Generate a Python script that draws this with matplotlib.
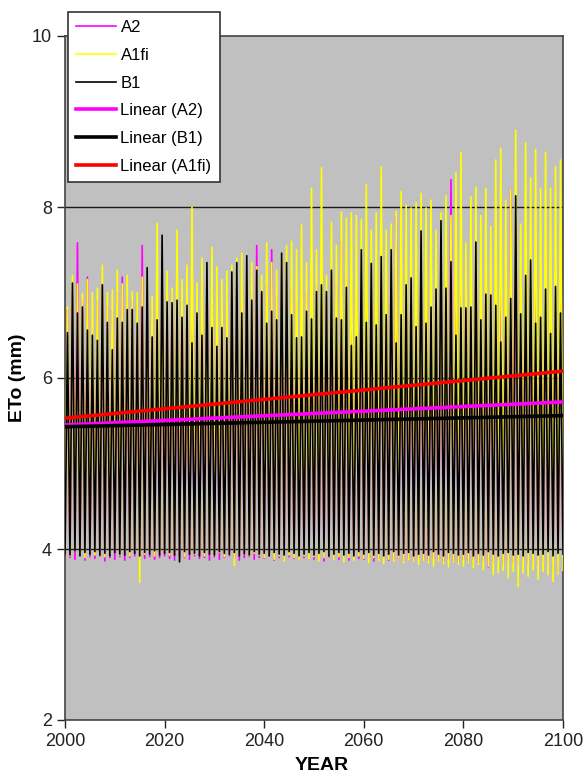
import matplotlib
matplotlib.use("Agg")
import matplotlib.pyplot as plt
import numpy as np

plt.rcParams['font.family'] = ['Liberation Sans', 'DejaVu Sans']

# ---- data (annual seasonal peaks / troughs) ----
years = list(range(2000, 2101))

B1_peak = [6.53, 7.11, 6.76, 6.83, 6.56, 6.50, 6.44, 7.09, 6.65, 6.33,
           6.70, 6.65, 6.80, 6.80, 6.64, 6.83, 7.29, 6.48, 6.68, 7.67,
           6.89, 6.88, 6.91, 6.71, 6.85, 6.41, 6.76, 6.50, 7.35, 6.59,
           6.37, 6.59, 6.47, 7.24, 7.35, 6.76, 7.43, 6.91, 7.26, 7.01,
           6.64, 6.78, 6.68, 7.46, 7.35, 6.74, 6.47, 6.48, 6.78, 6.69,
           7.01, 7.09, 7.01, 7.26, 6.70, 6.68, 7.06, 6.38, 6.48, 7.50,
           6.65, 7.34, 6.62, 7.42, 6.74, 7.50, 6.41, 6.74, 7.09, 7.17,
           6.60, 7.72, 6.64, 6.83, 7.04, 7.84, 7.05, 7.36, 6.50, 6.82,
           6.82, 6.83, 7.59, 6.68, 6.98, 6.97, 6.85, 6.42, 6.71, 6.93,
           8.13, 6.75, 7.20, 7.38, 6.64, 6.71, 7.04, 6.52, 7.07, 6.76]

B1_trough = [3.95, 3.93, 3.98, 3.92, 3.96, 3.94, 3.97, 3.93, 3.95, 3.92,
             3.96, 3.94, 3.93, 3.97, 3.95, 3.92, 3.96, 3.94, 3.98, 3.93,
             3.95, 3.96, 3.93, 3.85, 3.97, 3.94, 3.95, 3.92, 3.96, 3.94,
             3.93, 3.97, 3.95, 3.94, 3.96, 3.92, 3.95, 3.93, 3.97, 3.94,
             3.95, 3.92, 3.96, 3.94, 3.93, 3.97, 3.95, 3.92, 3.94, 3.96,
             3.93, 3.95, 3.97, 3.92, 3.94, 3.96, 3.93, 3.95, 3.92, 3.97,
             3.94, 3.96, 3.93, 3.95, 3.92, 3.94, 3.97, 3.93, 3.95, 3.96,
             3.92, 3.94, 3.95, 3.93, 3.97, 3.94, 3.92, 3.96, 3.95, 3.93,
             3.94, 3.96, 3.92, 3.95, 3.93, 3.97, 3.94, 3.92, 3.95, 3.96,
             3.93, 3.94, 3.92, 3.96, 3.95, 3.93, 3.94, 3.97, 3.92, 3.95,
             3.94]

A2_peak = [6.80, 7.00, 7.58, 6.90, 7.18, 6.60, 6.90, 7.10, 6.85, 6.80,
           7.00, 7.18, 6.95, 6.90, 6.85, 7.55, 7.05, 6.80, 7.20, 7.10,
           6.95, 7.00, 7.10, 6.90, 7.05, 6.85, 6.90, 6.95, 7.20, 6.90,
           6.85, 6.90, 6.98, 7.05, 7.10, 7.00, 7.20, 7.00, 7.55, 7.00,
           7.10, 7.50, 6.95, 7.20, 7.15, 7.05, 6.90, 7.10, 7.00, 7.20,
           7.10, 7.20, 6.95, 7.30, 7.10, 7.60, 7.20, 7.10, 7.00, 7.30,
           7.20, 7.30, 7.00, 7.35, 7.10, 7.30, 7.88, 7.20, 7.30, 7.25,
           7.10, 7.40, 7.20, 7.25, 7.10, 7.35, 7.30, 8.32, 7.20, 7.30,
           7.20, 7.30, 7.40, 7.20, 7.35, 7.15, 7.30, 7.25, 7.30, 8.20,
           7.50, 7.20, 7.40, 7.30, 7.25, 7.30, 7.35, 7.20, 7.40, 7.30]

A2_trough = [3.92, 3.90, 3.88, 3.93, 3.87, 3.91, 3.89, 3.92, 3.86, 3.90,
             3.88, 3.91, 3.87, 3.90, 3.92, 3.86, 3.89, 3.91, 3.88, 3.90,
             3.92, 3.89, 3.87, 3.91, 3.90, 3.88, 3.92, 3.89, 3.90, 3.87,
             3.91, 3.88, 3.90, 3.92, 3.89, 3.87, 3.90, 3.91, 3.88, 3.90,
             3.89, 3.92, 3.87, 3.90, 3.88, 3.91, 3.89, 3.87, 3.90, 3.92,
             3.88, 3.90, 3.86, 3.91, 3.89, 3.88, 3.90, 3.87, 3.91, 3.89,
             3.88, 3.90, 3.86, 3.89, 3.91, 3.87, 3.88, 3.90, 3.86, 3.89,
             3.87, 3.90, 3.88, 3.86, 3.89, 3.87, 3.85, 3.88, 3.86, 3.84,
             3.87, 3.85, 3.88, 3.84, 3.86, 3.79, 3.85, 3.87, 3.83, 3.86,
             3.84, 3.82, 3.86, 3.83, 3.85, 3.81, 3.84, 3.82, 3.76, 3.73,
             3.80]

A1fi_peak = [6.83, 7.20, 7.10, 6.99, 7.15, 7.00, 7.05, 7.32, 7.00, 7.03,
             7.26, 7.10, 7.20, 7.01, 7.00, 7.18, 7.10, 6.95, 7.81, 7.20,
             7.25, 7.05, 7.73, 7.15, 7.32, 8.00, 7.11, 7.40, 7.20, 7.53,
             7.30, 7.15, 7.25, 7.32, 7.40, 7.46, 7.25, 7.35, 7.30, 7.20,
             7.58, 7.35, 7.26, 7.45, 7.55, 7.60, 7.50, 7.79, 7.35, 8.22,
             7.50, 8.46, 7.20, 7.82, 7.55, 7.94, 7.87, 7.93, 7.90, 7.85,
             8.26, 7.73, 7.93, 8.47, 7.73, 7.80, 7.95, 8.18, 8.02, 7.99,
             8.05, 8.16, 7.99, 8.08, 7.73, 7.93, 8.13, 7.90, 8.40, 8.64,
             7.58, 8.12, 8.23, 7.90, 8.22, 7.77, 8.55, 8.69, 8.08, 8.20,
             8.90, 7.80, 8.75, 8.34, 8.67, 8.22, 8.64, 8.22, 8.47, 8.55]

A1fi_trough = [3.96, 3.92, 3.98, 3.95, 3.90, 3.97, 3.93, 3.96, 3.91, 3.95,
               3.98, 3.93, 3.96, 3.92, 3.97, 3.61, 3.94, 3.96, 3.92, 3.95,
               3.97, 3.93, 3.95, 3.98, 3.91, 3.96, 3.94, 3.97, 3.92, 3.95,
               3.93, 3.96, 3.91, 3.95, 3.81, 3.94, 3.96, 3.92, 3.95, 3.93,
               3.90, 3.94, 3.88, 3.92, 3.86, 3.93, 3.90, 3.87, 3.92, 3.89,
               3.91, 3.86, 3.90, 3.93, 3.88, 3.91, 3.85, 3.90, 3.87, 3.92,
               3.89, 3.84, 3.90, 3.87, 3.83, 3.88, 3.86, 3.90, 3.84, 3.88,
               3.86, 3.82, 3.87, 3.84, 3.80, 3.86, 3.83, 3.79, 3.85, 3.82,
               3.80, 3.84, 3.78, 3.82, 3.76, 3.80, 3.70, 3.72, 3.75, 3.66,
               3.74, 3.56, 3.72, 3.68, 3.76, 3.65, 3.74, 3.70, 3.62, 3.71,
               3.75]

trend_years = [2000, 2100]
trend_A2 = [5.45, 5.72]
trend_B1 = [5.43, 5.56]
trend_A1fi = [5.53, 6.08]

# ---- build zig-zag series: trough at start of each year, peak mid-year ----
def zigzag(peaks, troughs):
    t, v = [], []
    for i, y in enumerate(years[:-1]):
        t += [y, y + 0.5]
        v += [troughs[i], peaks[i]]
    t.append(years[-1])
    v.append(troughs[-1])
    return np.array(t), np.array(v)

W, H = 587, 776
fig = plt.figure(figsize=(W / 100, H / 100), dpi=100)
ax = fig.add_axes([65 / W, 1 - 720 / H, (563 - 65) / W, (720 - 36) / H])
ax.set_facecolor('#C0C0C0')

for yv in (4, 6, 8):
    ax.axhline(yv, color='#1a1a1a', lw=1.0, zorder=1)

tA2, vA2 = zigzag(A2_peak, A2_trough)
tA1, vA1 = zigzag(A1fi_peak, A1fi_trough)
tB1, vB1 = zigzag(B1_peak, B1_trough)

ax.plot(tA2, vA2, color='#FF00FF', lw=1.2, label='A2', zorder=2)
ax.plot(tA1, vA1, color='#FFFF00', lw=1.2, label='A1fi', zorder=3)
ax.plot(tB1, vB1, color='#000000', lw=1.2, label='B1', zorder=4)
ax.plot(trend_years, trend_A2, color='#FF00FF', lw=2.6, label='Linear (A2)', zorder=5)
ax.plot(trend_years, trend_B1, color='#000000', lw=2.6, label='Linear (B1)', zorder=5)
ax.plot(trend_years, trend_A1fi, color='#FF0000', lw=2.6, label='Linear (A1fi)', zorder=6)

ax.set_xlim(2000, 2100)
ax.set_ylim(2, 10)
ax.set_xticks(range(2000, 2101, 20))
ax.set_yticks([2, 4, 6, 8, 10])
ax.tick_params(axis='both', direction='out', length=6, width=1, labelsize=13,
               colors='#222222')
for s in ax.spines.values():
    s.set_color('#444444')
    s.set_linewidth(1.2)

fig.text(322 / W, 1 - 766 / H, 'YEAR', fontsize=14, fontweight='bold',
         ha='center', va='center')
fig.text(18 / W, 1 - 378 / H, 'ETo (mm)', fontsize=14, fontweight='bold',
         ha='center', va='center', rotation=90)

leg = fig.legend(loc='upper left', bbox_to_anchor=(68 / W, 1 - 12 / H),
                 bbox_transform=fig.transFigure, borderaxespad=0,
                 fontsize=12, frameon=True, fancybox=False, shadow=False,
                 labelspacing=0.76, handlelength=2.4, handletextpad=0.25,
                 borderpad=0.5)
leg.get_frame().set_edgecolor('#333333')
leg.get_frame().set_linewidth(1.2)
leg.get_frame().set_facecolor('white')
leg.get_frame().set_alpha(1)
leg.set_zorder(10)

fig.savefig('out.png', dpi=100)
